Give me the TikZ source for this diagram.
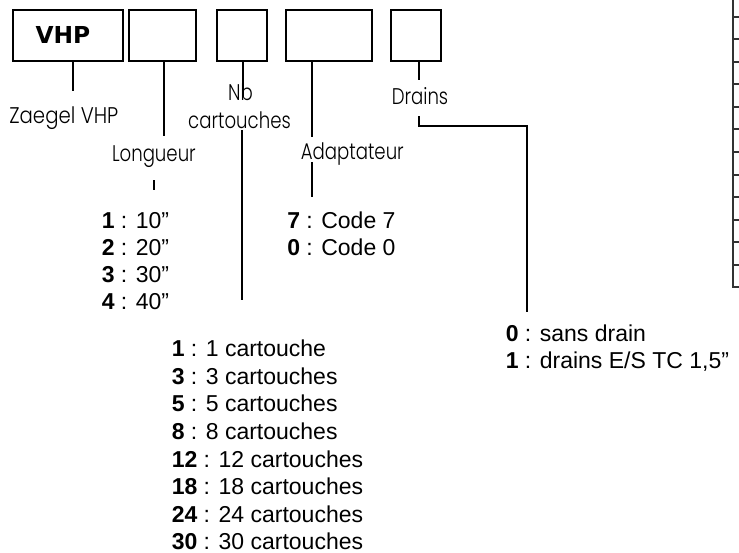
\documentclass[tikz,border=0pt]{standalone}
\usepackage{fontspec}
\setmainfont{Liberation Sans}
\newfontfamily\labfont{Poppins}[UprightFont=* Light]
\newfontfamily\boxfont{DejaVu Sans}
\newcommand\mylbl[2][0.8]{\scalebox{#1}[1]{#2}}
\begin{document}
\begin{tikzpicture}[x=0.75pt,y=-0.75pt,
  box/.style={draw, line width=1.5pt, inner sep=0pt, minimum height=38pt},
  conn/.style={line width=1.5pt},
  lab/.style={font=\labfont\fontsize{17}{20}\selectfont, inner sep=0pt, anchor=base},
  item/.style={font=\fontsize{17.25}{20}\selectfont, inner sep=0pt, anchor=base west},
  tick/.style={line width=1.5pt, draw=black!80}]
\useasboundingbox (0,0) rectangle (739,553);
% boxes
\node[box, minimum width=82pt] (b1) at (68,35.35) {};
\node[box, minimum width=50pt] (b2) at (162.65,35.35) {};
\node[box, minimum width=37.5pt] (b3) at (241.7,35.35) {};
\node[box, minimum width=65pt] (b4) at (329,35.35) {};
\node[box, minimum width=37.5pt] (b5) at (415.7,35.35) {};
\node[inner sep=0pt, anchor=base, font=\boxfont\bfseries\fontsize{17.5}{20}\selectfont] (vhp) at (63,43.3) {VHP};
% labels
\node[lab] (zl) at (63.8,123.3) {\mylbl[0.87]{Zaegel VHP}};
\node[lab] (ll) at (153.9,161) {\mylbl{Longueur}};
\node[lab] (nb1) at (240.5,100) {\mylbl{Nb}};
\node[lab] (nb2) at (239.5,128.3) {\mylbl{cartouches}};
\node[lab] (al) at (352.3,159.3) {\mylbl{Adaptateur}};
\node[lab] (dl) at (420,104.3) {\mylbl{Drains}};
% connectors
\coordinate (c1) at (73.3,91);
\draw[conn] (b1.south -| c1) -- (c1);
\coordinate (c2) at (164,136);
\draw[conn] (b2.south -| c2) -- (c2);
\coordinate (c2a) at (154,180);
\coordinate (c2b) at (154,189.5);
\draw[conn] (c2a) -- (c2b);
\coordinate (c3) at (242.7,96.7);
\draw[conn] (b3.south -| c3) -- (c3);
\coordinate (c3a) at (241.5,130);
\coordinate (c3b) at (241.5,300);
\draw[conn] (c3a) -- (c3b);
\coordinate (c4) at (311.7,137);
\draw[conn] (b4.south -| c4) -- (c4);
\coordinate (c4a) at (311.7,162);
\coordinate (c4b) at (311.7,197);
\draw[conn] (c4a) -- (c4b);
\coordinate (c5) at (419,80);
\draw[conn] (b5.south -| c5) -- (c5);
\coordinate (c5a) at (419,116);
\coordinate (c5k) at (526.7,125.7);
\coordinate (c5b) at (526.7,312);
\draw[conn] (c5a) |- (c5k) -- (c5b);
% lists
\foreach \n/\t [count=\i] in {1/10”,2/20”,3/30”,4/40”}
  \node[item] (len\i) at (101.5,{228.3+27*(\i-1)}) {\textbf{\n} : \t};
\node[item] (ad1) at (287,228.3) {\textbf{7} : Code 7};
\node[item] (ad2) at (287,255.3) {\textbf{0} : Code 0};
\foreach \n [count=\i] in {1,3,5,8,12,18,24,30}
  \node[item] (nc\i) at (171.5,{356.7+27.6*(\i-1)}) {\textbf{\n} : \n\ cartouche\ifnum\n>1 s\fi};
\node[item] (dr1) at (505.5,341.5) {\textbf{0} : sans drain};
\node[item] (dr2) at (505.5,368) {\textbf{1} : drains E/S TC 1,5”};
% partial table on the right
\draw[tick] (733,0) -- (733,287.3) -- (739,287.3);
\foreach \k in {0,...,11}
  \draw[tick] (733,{16.7+22.55*\k}) -- (739,{16.7+22.55*\k});
\end{tikzpicture}
\end{document}
